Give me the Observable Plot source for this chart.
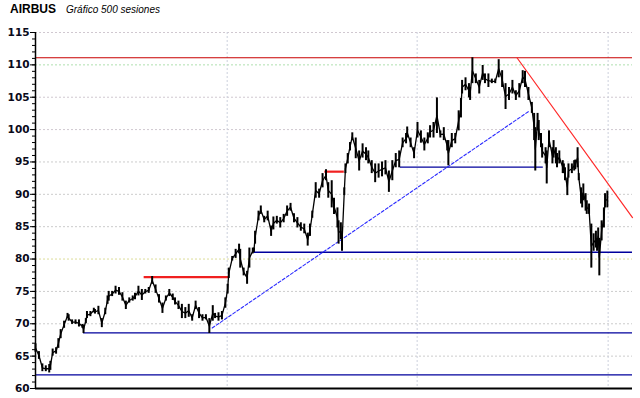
<!DOCTYPE html>
<html>
<head>
<meta charset="utf-8">
<script src="https://cdn.jsdelivr.net/npm/d3@7"></script>
<script src="https://cdn.jsdelivr.net/npm/@observablehq/plot@0.6"></script>
<style>
  html, body { margin: 0; padding: 0; background: #fff; }
  #wrap { position: relative; width: 640px; height: 398px; overflow: hidden; }
  #title { position: absolute; left: 10px; top: 2px; font: bold 12px "Liberation Sans", Arial, sans-serif; color: #000; line-height: 14px; white-space: nowrap; }
  #sub { font: italic 10px "Liberation Sans", Arial, sans-serif; margin-left: 10px; }
  #chart { position: absolute; left: 0; top: 0; }
</style>
</head>
<body>
<div id="wrap">
  <div id="chart"></div>
  <div id="title">AIRBUS<span id="sub">Gráfico 500 sesiones</span></div>
</div>
<script>
// ---- Data ----
const sessions = [0,3,6,9,12,13,15,18,20,22,25,28,29,32,35,38,41,42,44,45,48,51,52,55,58,61,63,64,67,70,73,76,79,82,85,87,90,93,96,99,102,105,108,111,114,117,120,122,125,128,131,134,137,140,143,146,149,152,155,157,160,163,166,168,169,172,175,178,179,182,185,187,190,191,192,195,197,200,203,206,208,211,214,217,220,223,226,229,232,235,238,240,242,245,248,251,254,256,259,261,264,265,267,268,270,271,273,275,277,280,283,286,289,291,294,297,300,303,306,309,312,315,318,321,324,325,328,331,334,337,340,343,345,348,351,354,357,360,361,364,367,370,372,373,376,379,380,382,385,388,391,393,396,399,402,405,408,411,414,417,420,423,426,428,431,434,436,437,439,440,442,443,446,447,449,452,453,455,456,458,461,462,463,465,466,469,471,472,474,475,477,478,479,481,482,484,486,488,490,491,492,493,495,497,498,500];
const lows = [65.6,64.5,62.6,62.6,62.4,62.8,65.0,65.3,66.2,67.7,69.3,70.8,70.4,69.9,69.9,69.5,69.3,68.5,70.0,70.8,71.1,71.7,71.5,71.4,69.4,71.4,73.0,73.5,74.2,74.6,74.4,73.5,72.2,73.2,73.5,73.7,74.3,73.6,74.6,74.7,76.1,74.7,73.2,71.6,73.5,74.2,73.6,72.9,72.2,70.8,70.8,71.0,70.4,72.2,70.8,70.4,70.6,68.5,70.4,70.8,70.4,70.6,72.4,74.6,77.0,79.7,80.1,80.8,78.6,77.4,76.1,78.6,80.8,81.0,82.3,85.9,86.9,85.6,85.9,83.5,84.5,85.4,84.8,85.6,86.6,87.4,85.6,84.8,84.3,83.9,82.0,83.5,86.3,89.4,89.4,91.0,92.1,89.4,87.9,86.9,84.8,82.3,83.0,81.2,89.8,93.2,94.7,96.7,98.3,95.5,93.6,95.6,95.2,94.7,93.2,91.8,92.5,92.7,93.0,90.3,92.1,94.1,94.1,97.2,97.8,98.7,97.2,95.5,98.7,97.9,96.7,97.8,98.7,98.7,99.4,98.7,98.3,96.7,94.4,97.2,97.8,99.8,101.8,105.5,106.0,104.9,104.5,107.1,107.1,105.5,107.6,107.1,106.5,107.1,107.1,108.0,106.5,103.1,104.5,105.5,104.5,104.9,107.1,106.5,104.5,102.5,98.3,93.6,99.8,98.3,97.2,95.6,94.7,91.6,97.2,94.7,95.6,94.7,94.1,94.7,93.2,93.2,92.1,89.8,92.5,93.2,93.6,93.8,94.1,92.1,88.5,87.9,89.0,87.4,86.9,86.9,78.6,81.2,81.7,81.2,82.3,77.4,82.8,84.8,87.9,87.9];
const highs = [66.9,65.7,63.8,63.5,63.7,64.2,66.1,66.3,67.7,69.1,70.4,71.6,71.4,70.6,70.6,70.6,69.9,69.8,70.8,71.9,71.9,72.4,72.2,72.7,70.8,72.4,74.3,75.0,75.0,75.8,75.6,74.8,73.5,74.0,74.3,74.7,75.8,75.3,75.3,75.6,77.3,76.0,74.5,73.2,74.3,75.3,74.6,74.0,73.5,73.0,72.5,73.0,71.4,73.5,72.5,71.4,71.4,70.8,72.8,71.6,71.7,71.9,74.0,76.1,78.6,80.4,81.5,82.3,81.5,78.6,78.1,81.7,81.7,81.7,84.3,87.4,88.2,86.6,87.4,85.1,86.5,86.6,86.4,86.9,88.2,88.6,87.0,86.4,85.6,85.4,84.0,85.4,87.4,91.8,90.8,93.2,93.8,91.8,92.1,89.4,87.9,85.9,85.6,83.9,91.0,94.7,96.3,98.0,99.5,98.7,96.7,97.8,97.2,96.7,95.2,94.7,94.7,95.0,95.2,93.6,95.2,96.3,96.7,98.7,99.4,100.4,98.7,97.2,101.1,99.8,98.7,99.5,100.6,101.1,104.9,99.8,100.3,98.3,98.3,99.4,99.4,102.9,104.8,107.6,108.0,107.1,106.5,111.1,108.6,107.6,109.9,108.6,108.6,107.8,107.8,110.8,109.1,107.1,106.5,107.6,106.0,107.1,109.1,109.0,106.5,104.2,102.5,100.3,102.5,101.4,99.4,97.8,97.2,96.7,99.8,97.2,98.3,97.2,96.3,96.7,95.2,94.7,94.1,92.5,94.7,94.7,95.2,95.3,97.2,93.2,91.0,90.1,91.6,90.1,89.0,88.5,85.4,83.9,84.3,83.2,84.8,83.2,85.9,87.9,90.1,90.5];

// y-axis ticks and gridlines
const majorTicks = [60,65,70,75,80,85,90,95,100,105,110,115];
const minorTicks = d3.range(60, 116, 1);
const gridLevels = [65,70,75,80,85,90,95,100,105,110,115];
const gridColors = ["#cccccc","#cccccc","#cccccc","#dcdc98","#cccccc","#cccccc","#cccccc","#d0c8d0","#d0c8d0","#b0e0b0","#d0c8d0"];
const verticalGrid = [167.6, 333.7, 500.7];

// horizontal support lines (blue)
const supportLevel = [62.1, 68.6, 81.05, 94.2];
const supportFrom  = [0, 42, 191, 319];
const supportTo    = [522, 522, 522, 444];

// resistance lines (red)
const topLevel = [111.1];
const shortRedLevel = [77.2, 93.5];
const shortRedFrom  = [95, 253];
const shortRedTo    = [169, 270];

// trend lines
const blueTrend = {s: [154.5, 432], v: [69.35, 102.9]};
const redTrend  = {s: [421, 522],   v: [111.1, 86.4]};

// ---- Build tables ----
const bars = sessions.map((s, i) => ({s, lo: lows[i], hi: highs[i], mid: (lows[i] + highs[i]) / 2}));
const grid = gridLevels.map((v, i) => ({v, c: gridColors[i]}));
const support = supportLevel.map((v, i) => ({v, a: supportFrom[i], b: supportTo[i]}));
const shortRed = shortRedLevel.map((v, i) => ({v, a: shortRedFrom[i], b: shortRedTo[i]}));
const blueT = blueTrend.s.map((s, i) => ({s, v: blueTrend.v[i]}));
const redT = redTrend.s.map((s, i) => ({s, v: redTrend.v[i]}));

const chart = Plot.plot({
  width: 640,
  height: 398,
  marginTop: 32,
  marginBottom: 10,
  marginLeft: 35,
  marginRight: 8,
  style: {background: "transparent", fontFamily: "DejaVu Sans, sans-serif"},
  x: {domain: [0, 522], axis: null},
  y: {domain: [60, 115], axis: null},
  marks: [
    Plot.ruleY(grid, {y: "v", stroke: "c", strokeDasharray: "2,2", strokeWidth: 1}),
    Plot.ruleX(verticalGrid, {stroke: "#ccd0dc", strokeDasharray: "2,2", strokeWidth: 1}),
    Plot.ruleY(support, {y: "v", x1: "a", x2: "b", stroke: "#00009c", strokeWidth: 1.3}),
    Plot.ruleY(topLevel, {x1: 0, x2: 522, stroke: "#c80000", strokeWidth: 1.2}),
    Plot.ruleY(shortRed, {y: "v", x1: "a", x2: "b", stroke: "#f02020", strokeWidth: 2.2}),
    Plot.line(blueT, {x: "s", y: "v", stroke: "#2a2aff", strokeWidth: 1.1, strokeDasharray: "3,2"}),
    Plot.line(redT, {x: "s", y: "v", stroke: "#ff2a2a", strokeWidth: 1.2}),
    Plot.ruleX(bars, {x: "s", y1: "lo", y2: "hi", stroke: "#000", strokeWidth: 2}),
    Plot.line(bars, {x: "s", y: "mid", stroke: "#000", strokeWidth: 1.3}),
    Plot.ruleX([0], {y1: 60, y2: 115, stroke: "#000", strokeWidth: 1.5}),
    Plot.ruleY([60], {x1: 0, x2: 522, stroke: "#000", strokeWidth: 2}),
    Plot.axisY(minorTicks, {anchor: "left", tickSize: 3, tickFormat: () => "", label: null, stroke: "#000"}),
    Plot.axisY(majorTicks, {anchor: "left", tickSize: 5, tickPadding: 1, label: null, fontSize: 10.5, fontWeight: "bold", fill: "#0a0a1a", stroke: "#000"})
  ]
});
document.getElementById("chart").appendChild(chart);
</script>
</body>
</html>
